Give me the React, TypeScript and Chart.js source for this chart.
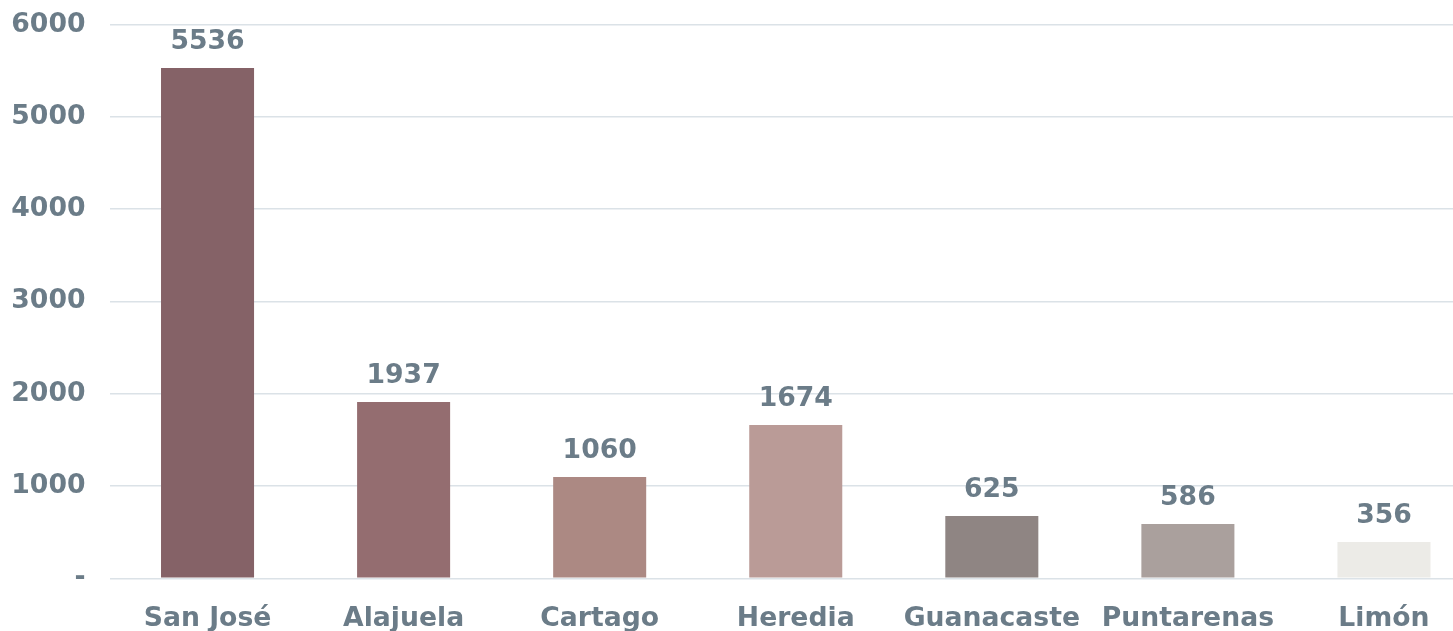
import React, { useEffect, useRef } from "react";
import { Chart, registerables } from "chart.js";

Chart.register(...registerables);

const categories = ["San José", "Alajuela", "Cartago", "Heredia", "Guanacaste", "Puntarenas", "Limón"];
const barValues = [5530, 1910, 1097, 1661, 675, 588, 393];
const valueLabels = ["5536", "1937", "1060", "1674", "625", "586", "356"];
const barColors = ["#856267", "#946d70", "#ac8983", "#ba9b97", "#8f8583", "#aaa09d", "#ecebe7"];
const yTicks = [0, 1000, 2000, 3000, 4000, 5000, 6000];

const TEXT = "#6b7c88";
const FONT_FAMILY = "'DejaVu Sans', Verdana, sans-serif";
const FONT_SIZE = 26.67;

const labelPlugin = {
  id: "valueLabels",
  afterDatasetsDraw(chart: any) {
    const ctx = chart.ctx;
    const meta = chart.getDatasetMeta(0);
    ctx.save();
    ctx.font = `bold ${FONT_SIZE}px ${FONT_FAMILY}`;
    ctx.fillStyle = TEXT;
    ctx.textAlign = "center";
    ctx.textBaseline = "alphabetic";
    meta.data.forEach((bar: any, i: number) => {
      ctx.fillText(valueLabels[i], bar.x, bar.y - 19);
    });
    ctx.restore();
  },
};

export default function App() {
  const ref = useRef<HTMLCanvasElement | null>(null);
  useEffect(() => {
    if (!ref.current) return;
    const chart = new Chart(ref.current, {
      type: "bar",
      data: {
        labels: categories,
        datasets: [
          {
            data: barValues,
            backgroundColor: barColors,
            borderWidth: 0,
            categoryPercentage: 1,
            barPercentage: 0.4745,
          },
        ],
      },
      options: {
        animation: false,
        responsive: false,
        maintainAspectRatio: false,
        layout: { padding: { top: 24.7, left: 0, right: 0, bottom: 0 } },
        plugins: { legend: { display: false }, tooltip: { enabled: false } },
        scales: {
          x: {
            grid: { display: false, drawTicks: false },
            border: { display: false },
            ticks: {
              color: TEXT,
              font: { family: FONT_FAMILY, size: FONT_SIZE, weight: "bold" },
              padding: 25,
              maxRotation: 0,
              autoSkip: false,
            },
            afterFit: (scale: any) => {
              scale.height = 52.7;
              scale.paddingLeft = 0;
              scale.paddingRight = 0;
              scale.paddingTop = 0;
              scale.paddingBottom = 0;
            },
          },
          y: {
            min: 0,
            max: 6000,
            afterBuildTicks: (scale: any) => {
              scale.ticks = yTicks.map((v) => ({ value: v }));
            },
            grid: { color: "#dbe2e7", lineWidth: 1.5, drawTicks: false },
            border: { display: false },
            ticks: {
              color: TEXT,
              font: { family: FONT_FAMILY, size: FONT_SIZE, weight: "bold" },
              padding: 24,
              callback: (v: any) => (Number(v) === 0 ? "-" : String(v)),
            },
            afterFit: (scale: any) => {
              scale.width = 109.5;
              scale.paddingTop = 0;
              scale.paddingBottom = 0;
              scale.paddingLeft = 0;
              scale.paddingRight = 0;
            },
          },
        },
      },
      plugins: [labelPlugin],
    });
    return () => chart.destroy();
  }, []);
  return (
    <div
      style={{
        position: "fixed",
        left: 0,
        top: 0,
        width: 1453,
        height: 631,
        overflow: "hidden",
        background: "#ffffff",
      }}
    >
      <canvas ref={ref} width={1482} height={631} style={{ display: "block", width: 1482, height: 631 }} />
    </div>
  );
}
